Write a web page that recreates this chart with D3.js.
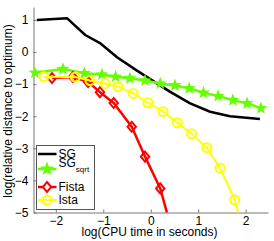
<!DOCTYPE html>
<html><head><meta charset="utf-8">
<script src="https://cdn.jsdelivr.net/npm/d3@7"></script>
<style>body{margin:0;background:#fff}svg{display:block;font-family:"Liberation Sans",Arial,Helvetica,sans-serif}</style>
</head><body><svg id="c" width="274" height="241"></svg>
<script>
// Data (log CPU time, log relative distance to optimum)
const sgX = [-2.40, -1.76, -1.38, -1.07, -0.71, -0.29, 0.41, 0.83, 1.25, 1.67, 2.30];
const sgY = [1.00, 1.05, 0.53, 0.28, -0.16, -0.58, -1.24, -1.60, -1.86, -2.00, -2.09];
const sqrtX = [-2.44, -1.85, -1.40, -1.03, -0.74, -0.44, -0.12, 0.20, 0.51, 0.81, 1.11, 1.42, 1.73, 2.03, 2.32];
const sqrtY = [-0.645, -0.53, -0.66, -0.70, -0.77, -0.82, -0.89, -0.98, -1.04, -1.13, -1.27, -1.37, -1.50, -1.60, -1.75];
const fistaX = [-2.08, -1.64, -1.32, -1.07, -0.78, -0.40, -0.12, 0.20, 0.47];
const fistaY = [-0.81, -0.78, -0.93, -1.25, -1.59, -2.33, -3.26, -4.25, -5.70];
const istaX = [-2.25, -1.59, -1.28, -0.96, -0.69, -0.37, -0.06, 0.26, 0.56, 0.86, 1.18, 1.46, 1.77, 2.07];
const istaY = [-0.77, -0.78, -0.89, -0.98, -1.08, -1.29, -1.58, -1.86, -2.20, -2.55, -2.98, -3.62, -4.61, -6.30];
const xTicks = [-2, -1, 0, 1, 2];
const yTicks = [-5, -4, -3, -2, -1, 0, 1];
const seriesNames = ["SG", "SG", "Fista", "Ista"];
const colors = ["#000000", "#66ff00", "#ff0000", "#ffff00"];

const svg = d3.select("#c");
const x = d3.scaleLinear().domain([-2.47, 2.47]).range([33.5, 268]);
const y = d3.scaleLinear().domain([-5, 1.4]).range([212.5, 7.1]);

svg.append("defs").append("clipPath").attr("id", "clip")
  .append("rect").attr("x", x.range()[0]).attr("y", y.range()[1])
  .attr("width", x.range()[1] - x.range()[0]).attr("height", y.range()[0] - y.range()[1]);

function starPath(R) {
  const r = R * 0.42; let p = [];
  for (let i = 0; i < 10; i++) {
    const a = -Math.PI / 2 + i * Math.PI / 5;
    const rr = i % 2 ? r : R;
    p.push([rr * Math.cos(a), rr * Math.sin(a)]);
  }
  return "M" + p.map(d => d.join(",")).join("L") + "Z";
}
function diamondPath(h, w) { return `M0,${-h}L${w},0L0,${h}L${-w},0Z`; }

const line = d3.line().x(d => x(d[0])).y(d => y(d[1]));
const series = [
  {xs: sgX, ys: sgY, c: colors[0], w: 2.5, m: null},
  {xs: sqrtX, ys: sqrtY, c: colors[1], w: 2.5, m: "star"},
  {xs: fistaX, ys: fistaY, c: colors[2], w: 2.5, m: "diamond"},
  {xs: istaX, ys: istaY, c: colors[3], w: 2, m: "circle"}
];

// axes
const fmt = d3.format("d");
const gx = svg.append("g").attr("transform", `translate(0,${y.range()[0]})`)
  .call(d3.axisBottom(x).tickValues(xTicks).tickFormat(fmt).tickSizeInner(-3).tickSizeOuter(0).tickPadding(4));
const gy = svg.append("g").attr("transform", `translate(${x.range()[0]},0)`)
  .call(d3.axisLeft(y).tickValues(yTicks).tickFormat(fmt).tickSizeInner(-3).tickSizeOuter(0).tickPadding(5));
[gx, gy].forEach(g => {
  g.selectAll("path.domain").attr("stroke", "#777");
  g.selectAll(".tick line").attr("stroke", "#777");
  g.selectAll("text").attr("font-size", 12).attr("fill", "#000").attr("font-family", "Liberation Sans, Arial, sans-serif");
});

series.forEach(s => {
  const pts = s.xs.map((v, i) => [v, s.ys[i]]);
  svg.append("path").datum(pts).attr("d", line).attr("fill", "none")
    .attr("stroke", s.c).attr("stroke-width", s.w).attr("stroke-linejoin", "round")
    .attr("clip-path", "url(#clip)");
  const vis = pts.filter(p => p[1] >= y.domain()[0] && p[1] <= y.domain()[1]);
  const g = svg.append("g");
  vis.forEach(p => {
    const tx = `translate(${x(p[0])},${y(p[1])})`;
    if (s.m === "star") g.append("path").attr("d", starPath(6.8)).attr("transform", tx).attr("fill", s.c);
    if (s.m === "diamond") g.append("path").attr("d", diamondPath(5, 4.2)).attr("transform", tx).attr("fill", "none").attr("stroke", s.c).attr("stroke-width", 2);
    if (s.m === "circle") g.append("circle").attr("r", 4.5).attr("transform", tx).attr("fill", "none").attr("stroke", s.c).attr("stroke-width", 2);
  });
});

// axis labels
svg.append("text").attr("x", 149.5).attr("y", 236).attr("text-anchor", "middle")
  .attr("font-size", 12).text("log(CPU time in seconds)");
svg.append("text").attr("transform", "translate(12,111) rotate(-90)").attr("text-anchor", "middle")
  .attr("font-size", 12).text("log(relative distance to optimum)");

// legend
const lg = svg.append("g");
lg.append("rect").attr("x", 36.5).attr("y", 145.5).attr("width", 58).attr("height", 64)
  .attr("fill", "#fff").attr("stroke", "#555").attr("stroke-width", 1);
const ly = [154, 169, 187, 200];
series.forEach((s, i) => {
  lg.append("line").attr("x1", 38).attr("x2", 56.5).attr("y1", ly[i]).attr("y2", ly[i])
    .attr("stroke", s.c).attr("stroke-width", s.w);
  const tx = `translate(47,${ly[i]})`;
  if (s.m === "star") lg.append("path").attr("d", starPath(7.5)).attr("transform", tx).attr("fill", s.c);
  if (s.m === "diamond") lg.append("path").attr("d", diamondPath(5, 4.2)).attr("transform", tx).attr("fill", "#fff").attr("stroke", s.c).attr("stroke-width", 2);
  if (s.m === "circle") lg.append("circle").attr("r", 4.5).attr("transform", tx).attr("fill", "none").attr("stroke", s.c).attr("stroke-width", 2);
});
lg.append("text").attr("x", 58.5).attr("y", ly[0] + 4.3).attr("font-size", 12).text(seriesNames[0]);
const t2 = lg.append("text").attr("x", 58.5).attr("y", 166.5).attr("font-size", 12).text(seriesNames[1]);
t2.append("tspan").attr("font-size", 8).attr("dy", 5).text("sqrt");
lg.append("text").attr("x", 58.5).attr("y", ly[2] + 4.3).attr("font-size", 12).text(seriesNames[2]);
lg.append("text").attr("x", 58.5).attr("y", ly[3] + 4.3).attr("font-size", 12).text(seriesNames[3]);
</script></body></html>
